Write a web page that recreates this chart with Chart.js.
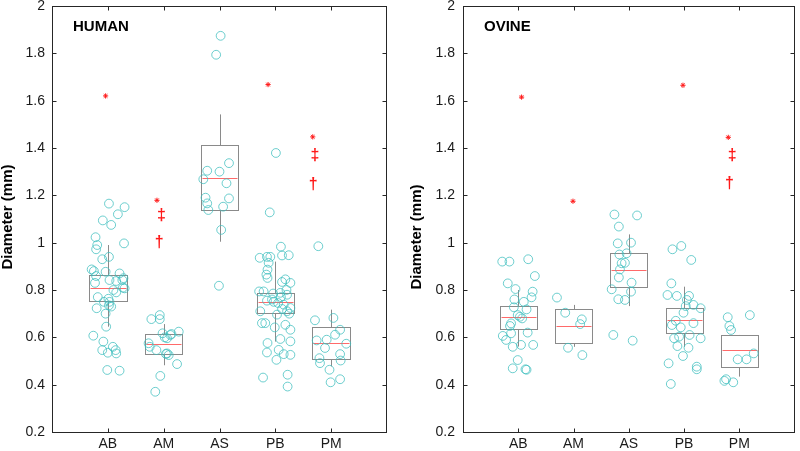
<!DOCTYPE html>
<html>
<head>
<meta charset="utf-8">
<script src="https://cdn.jsdelivr.net/npm/chart.js@4.4.0/dist/chart.umd.min.js"></script>
<style>
body { margin: 0; background: #fff; }
#wrap { position: relative; width: 800px; height: 451px; }
canvas { position: absolute; top: 0; }
</style>
</head>
<body>
<div id="wrap">
<canvas id="human" width="400" height="451" style="left:0"></canvas>
<canvas id="ovine" width="400" height="451" style="left:400px"></canvas>
</div>
<script>
var categories = ['AB', 'AM', 'AS', 'PB', 'PM'];

// HUMAN raw points (value) and horizontal jitter (in category units)
var humanAB = [1.094, 1.075, 1.165, 1.12, 1.15, 1.023, 0.99, 0.972, 0.94, 0.93, 0.997, 0.887, 0.88, 0.859, 0.877,
    0.842, 0.838, 0.87, 0.842, 0.83, 0.81, 0.807, 0.79, 0.77, 0.763, 0.75, 0.73, 0.723, 0.70, 0.645, 0.607, 0.582,
    0.546, 0.56, 0.546, 0.535, 0.532, 0.462, 0.459, 0.75, 0.735, 0.80, 0.85];
var humanABJitter = [-0.09, 0.06, 0.02, 0.18, 0.30, -0.22, -0.19, -0.21, 0.02, -0.10, 0.29, -0.29, -0.25, -0.21, -0.04,
    0.03, 0.15, 0.21, 0.26, -0.23, 0.27, 0.30, 0.15, -0.18, 0.01, 0.03, 0.06, -0.20, -0.04, -0.03, -0.26, -0.08,
    -0.10, 0.09, 0.14, 0.0, 0.15, -0.01, 0.21, -0.07, 0.02, 0.10, 0.28];
var humanAM = [0.677, 0.677, 0.694, 0.617, 0.614, 0.624, 0.596, 0.61, 0.575, 0.56, 0.546, 0.532, 0.525, 0.487, 0.437, 0.37, 0.60, 0.53];
var humanAMJitter = [-0.22, -0.07, -0.07, -0.02, 0.14, 0.27, 0.06, 0.12, -0.27, -0.25, -0.13, 0.06, 0.09, 0.24, -0.06, -0.15, 0.02, 0.04];
var humanAS = [1.874, 1.794, 1.304, 1.268, 1.30, 1.336, 1.251, 1.19, 1.166, 1.138, 1.187, 1.152, 1.054, 0.818];
var humanASJitter = [0.02, -0.06, -0.22, -0.29, 0.0, 0.17, 0.125, -0.25, -0.22, -0.20, 0.17, 0.065, 0.03, -0.01];
var humanPB = [1.379, 1.128, 0.983, 0.946, 0.947, 0.936, 0.94, 0.94, 0.915, 0.886, 0.865, 0.851, 0.834, 0.83, 0.845,
    0.794, 0.794, 0.785, 0.788, 0.78, 0.755, 0.75, 0.745, 0.738, 0.724, 0.71, 0.71, 0.696, 0.66, 0.66, 0.642, 0.653,
    0.632, 0.593, 0.583, 0.576, 0.536, 0.547, 0.529, 0.526, 0.505, 0.43, 0.442, 0.392, 0.77, 0.76, 0.72, 0.80, 0.70];
var humanPBJitter = [0.01, -0.10, 0.10, 0.12, 0.24, -0.28, -0.15, -0.09, -0.12, -0.14, -0.16, -0.14, 0.12, 0.27, 0.18,
    -0.29, -0.21, -0.04, 0.09, 0.21, -0.15, -0.03, 0.05, 0.15, 0.27, 0.21, -0.27, 0.03, -0.24, -0.18, -0.01, 0.18,
    0.27, 0.09, 0.27, -0.14, -0.15, 0.06, 0.15, 0.27, 0.02, -0.22, 0.22, 0.22, 0.10, -0.06, 0.12, 0.20, 0.25];
var humanPM = [0.985, 0.672, 0.682, 0.632, 0.611, 0.587, 0.59, 0.555, 0.573, 0.529, 0.512, 0.491, 0.502, 0.463, 0.41, 0.423];
var humanPMJitter = [-0.23, -0.29, 0.04, 0.16, 0.07, -0.26, -0.08, -0.11, 0.27, 0.16, -0.21, -0.20, 0.17, -0.03, -0.01, 0.16];

// HUMAN box statistics
var humanQ1 = [0.755, 0.528, 1.136, 0.704, 0.508];
var humanMedian = [0.81, 0.57, 1.275, 0.749, 0.576];
var humanQ3 = [0.865, 0.613, 1.414, 0.789, 0.642];
var humanLow = [0.645, 0.482, 1.004, 0.582, 0.477];
var humanHigh = [0.99, 0.656, 1.542, 0.92, 0.717];

// HUMAN significance marks
var humanMarkCat = [0, 1, 1, 1, 3, 4, 4, 4];
var humanMarkOffset = [-0.04, -0.12, -0.04, -0.08, -0.13, -0.33, -0.29, -0.32];
var humanMarkValue = [1.62, 1.179, 1.115, 1.0, 1.668, 1.447, 1.368, 1.247];
var humanMarkSymbol = ['*', '*', '‡', '†', '*', '*', '‡', '†'];

// OVINE raw points and jitter
var ovineAB = [0.92, 0.92, 0.93, 0.859, 0.828, 0.804, 0.793, 0.769, 0.76, 0.75, 0.718, 0.727, 0.659, 0.687, 0.694,
    0.68, 0.648, 0.606, 0.589, 0.617, 0.62, 0.568, 0.56, 0.568, 0.504, 0.469, 0.465, 0.463];
var ovineABJitter = [-0.29, -0.16, 0.18, 0.30, -0.19, -0.05, 0.26, 0.24, -0.07, 0.10, 0.15, -0.08, -0.13, 0.03, -0.01,
    0.07, -0.15, -0.28, -0.22, -0.13, 0.17, 0.05, -0.10, 0.27, -0.01, -0.10, 0.13, 0.15];
var ovineAM = [0.768, 0.704, 0.676, 0.656, 0.556, 0.525];
var ovineAMJitter = [-0.30, -0.15, 0.15, 0.12, -0.10, 0.16];
var ovineAS = [1.119, 1.115, 1.068, 0.997, 1.0, 0.95, 0.955, 0.915, 0.913, 0.887, 0.853, 0.831, 0.803, 0.793, 0.761, 0.758, 0.61, 0.586];
var ovineASJitter = [-0.26, 0.15, -0.18, -0.20, 0.04, -0.17, -0.04, -0.07, -0.13, -0.16, -0.18, 0.05, -0.31, 0.04, -0.19, -0.07, -0.28, 0.07];
var ovinePB = [0.986, 0.972, 0.927, 0.828, 0.779, 0.775, 0.775, 0.758, 0.732, 0.723, 0.737, 0.652, 0.642, 0.67,
    0.704, 0.66, 0.61, 0.596, 0.596, 0.603, 0.563, 0.556, 0.521, 0.49, 0.476, 0.465, 0.403];
var ovinePBJitter = [-0.05, -0.21, 0.13, -0.23, -0.30, -0.13, 0.09, 0.05, 0.03, 0.30, 0.17, -0.22, -0.06, -0.15,
    -0.01, 0.17, 0.10, 0.30, -0.18, -0.09, -0.12, 0.08, -0.02, -0.28, 0.23, 0.23, -0.24];
var ovinePM = [0.685, 0.694, 0.648, 0.631, 0.532, 0.507, 0.507, 0.423, 0.416, 0.41];
var ovinePMJitter = [-0.21, 0.19, -0.18, -0.15, 0.26, -0.03, 0.13, -0.24, -0.27, -0.11];

// OVINE box statistics
var ovineQ1 = [0.634, 0.575, 0.811, 0.62, 0.476];
var ovineMedian = [0.685, 0.649, 0.885, 0.673, 0.546];
var ovineQ3 = [0.732, 0.718, 0.955, 0.723, 0.61];
var ovineLow = [0.561, 0.56, 0.732, 0.56, 0.434];
var ovineHigh = [0.80, 0.737, 1.035, 0.814, 0.61];

// OVINE significance marks
var ovineMarkCat = [0, 1, 3, 4, 4, 4];
var ovineMarkOffset = [0.06, -0.01, -0.02, -0.20, -0.13, -0.18];
var ovineMarkValue = [1.615, 1.175, 1.665, 1.445, 1.368, 1.25];
var ovineMarkSymbol = ['*', '*', '*', '*', '‡', '†'];

var BOX_WIDTH = 0.67;
var POINT_COLOR = 'rgba(60, 190, 190, 0.75)';
var BOX_COLOR = '#8a8a8a';
var MEDIAN_COLOR = '#ff6a6a';
var MARK_COLOR = '#ff1a1a';
var FONT = '"Liberation Sans", Arial, sans-serif';

function points(values, jitter, cat) {
    return values.map(function (v, i) { return { x: cat + jitter[i], y: v }; });
}

var boxPlugin = {
    id: 'boxes',
    beforeDatasetsDraw: function (chart, args, opts) {
        var ctx = chart.ctx, x = chart.scales.x, y = chart.scales.y;
        ctx.save();
        ctx.lineWidth = 1;
        for (var i = 0; i < categories.length; i++) {
            var l = Math.round(x.getPixelForValue(i - BOX_WIDTH / 2)) + 0.5;
            var r = Math.round(x.getPixelForValue(i + BOX_WIDTH / 2)) + 0.5;
            var c = Math.round(x.getPixelForValue(i)) + 0.5;
            var q1 = Math.round(y.getPixelForValue(opts.q1[i])) + 0.5;
            var q3 = Math.round(y.getPixelForValue(opts.q3[i])) + 0.5;
            var lo = y.getPixelForValue(opts.low[i]);
            var hi = y.getPixelForValue(opts.high[i]);
            var med = Math.round(y.getPixelForValue(opts.median[i])) + 0.5;
            ctx.strokeStyle = BOX_COLOR;
            ctx.beginPath();
            ctx.moveTo(c, q3); ctx.lineTo(c, hi);
            ctx.moveTo(c, q1); ctx.lineTo(c, lo);
            ctx.stroke();
            ctx.strokeRect(l, q3, r - l, q1 - q3);
            ctx.strokeStyle = MEDIAN_COLOR;
            ctx.beginPath();
            ctx.moveTo(l + 1, med); ctx.lineTo(r - 1, med);
            ctx.stroke();
        }
        ctx.restore();
    },
    afterDraw: function (chart, args, opts) {
        var ctx = chart.ctx, x = chart.scales.x, y = chart.scales.y, a = chart.chartArea;
        ctx.save();
        // frame with inward ticks
        ctx.strokeStyle = '#262626';
        ctx.lineWidth = 1;
        var L = Math.round(a.left) + 0.5, R = Math.round(a.right) - 0.5;
        var T = Math.round(a.top) + 0.5, B = Math.round(a.bottom) + 0.5;
        ctx.strokeRect(L, T, R - L, B - T);
        ctx.beginPath();
        y.ticks.forEach(function (t) {
            var py = Math.round(y.getPixelForValue(t.value)) + 0.5;
            ctx.moveTo(L, py); ctx.lineTo(L + 4, py);
            ctx.moveTo(R, py); ctx.lineTo(R - 4, py);
        });
        x.ticks.forEach(function (t) {
            var px = Math.round(x.getPixelForValue(t.value)) + 0.5;
            ctx.moveTo(px, B); ctx.lineTo(px, B - 4);
            ctx.moveTo(px, T); ctx.lineTo(px, T + 4);
        });
        ctx.stroke();

        // daggers
        ctx.fillStyle = MARK_COLOR;
        ctx.font = 'bold 16px ' + FONT;
        ctx.textAlign = 'center';
        ctx.textBaseline = 'middle';
        opts.markSymbol.forEach(function (s, i) {
            if (s === '*') return;
            var px = x.getPixelForValue(opts.markCat[i] + opts.markOffset[i]);
            var py = y.getPixelForValue(opts.markValue[i]);
            ctx.fillText(s, px, py);
        });

        // panel title
        ctx.fillStyle = '#000';
        ctx.font = 'bold 15px ' + FONT;
        ctx.textAlign = 'left';
        ctx.textBaseline = 'alphabetic';
        ctx.fillText(opts.title, a.left + 21, a.top + 24.5);

        // y axis title
        ctx.font = 'bold 15px ' + FONT;
        ctx.textAlign = 'center';
        ctx.textBaseline = 'middle';
        ctx.translate(opts.yTitleX, opts.yTitleY);
        ctx.rotate(-Math.PI / 2);
        ctx.fillText('Diameter (mm)', 0, 0);
        ctx.restore();
    }
};

function makeChart(id, set) {
    var datasets = categories.map(function (c, i) {
        return {
            data: points(set.values[i], set.jitter[i], i),
            pointStyle: 'circle',
            pointRadius: 4.4,
            borderWidth: 1,
            borderColor: POINT_COLOR,
            backgroundColor: 'rgba(0,0,0,0)'
        };
    });
    var stars = [];
    set.markSymbol.forEach(function (s, i) {
        if (s === '*') stars.push({ x: set.markCat[i] + set.markOffset[i], y: set.markValue[i] });
    });
    datasets.push({
        data: stars,
        pointStyle: 'star',
        pointRadius: 2.6,
        borderWidth: 1,
        borderColor: MARK_COLOR,
        backgroundColor: MARK_COLOR
    });

    return new Chart(document.getElementById(id).getContext('2d'), {
        type: 'scatter',
        data: { datasets: datasets },
        options: {
            responsive: false,
            animation: false,
            devicePixelRatio: 1,
            layout: { padding: { top: 6, right: set.padRight, bottom: 0, left: 0 } },
            plugins: {
                legend: { display: false },
                tooltip: { enabled: false },
                boxes: {
                    q1: set.q1, q3: set.q3, median: set.median, low: set.low, high: set.high,
                    markCat: set.markCat, markOffset: set.markOffset, markValue: set.markValue,
                    markSymbol: set.markSymbol, title: set.title,
                    yTitleX: set.yTitleX, yTitleY: set.yTitleY
                }
            },
            scales: {
                x: {
                    type: 'linear',
                    min: -1,
                    max: 5,
                    grid: { display: false, drawTicks: false },
                    border: { display: false },
                    afterBuildTicks: function (scale) {
                        scale.ticks = categories.map(function (c, i) { return { value: i }; });
                    },
                    afterFit: function (scale) {
                        scale.height = 19;
                        scale.paddingLeft = 0;
                        scale.paddingRight = 0;
                    },
                    ticks: {
                        autoSkip: false,
                        maxRotation: 0,
                        padding: 4,
                        color: '#1a1a1a',
                        font: { family: FONT, size: 14 },
                        callback: function (v) { return categories[v]; }
                    }
                },
                y: {
                    min: 0.2,
                    max: 2,
                    grid: { display: false, drawTicks: false },
                    border: { display: false },
                    afterFit: function (scale) {
                        scale.width = set.yWidth;
                        scale.paddingTop = 0;
                        scale.paddingBottom = 0;
                    },
                    ticks: {
                        stepSize: 0.2,
                        padding: set.tickPad,
                        color: '#1a1a1a',
                        font: { family: FONT, size: 14 },
                        callback: function (v) { return String(Math.round(v * 10) / 10); }
                    }
                }
            }
        },
        plugins: [boxPlugin]
    });
}

makeChart('human', {
    title: 'HUMAN',
    values: [humanAB, humanAM, humanAS, humanPB, humanPM],
    jitter: [humanABJitter, humanAMJitter, humanASJitter, humanPBJitter, humanPMJitter],
    q1: humanQ1, q3: humanQ3, median: humanMedian, low: humanLow, high: humanHigh,
    markCat: humanMarkCat, markOffset: humanMarkOffset, markValue: humanMarkValue, markSymbol: humanMarkSymbol,
    yWidth: 52, tickPad: 7, padRight: 13, yTitleX: 8, yTitleY: 217
});

makeChart('ovine', {
    title: 'OVINE',
    values: [ovineAB, ovineAM, ovineAS, ovinePB, ovinePM],
    jitter: [ovineABJitter, ovineAMJitter, ovineASJitter, ovinePBJitter, ovinePMJitter],
    q1: ovineQ1, q3: ovineQ3, median: ovineMedian, low: ovineLow, high: ovineHigh,
    markCat: ovineMarkCat, markOffset: ovineMarkOffset, markValue: ovineMarkValue, markSymbol: ovineMarkSymbol,
    yWidth: 63, tickPad: 8, padRight: 1, yTitleX: 17, yTitleY: 237
});
</script>
</body>
</html>
